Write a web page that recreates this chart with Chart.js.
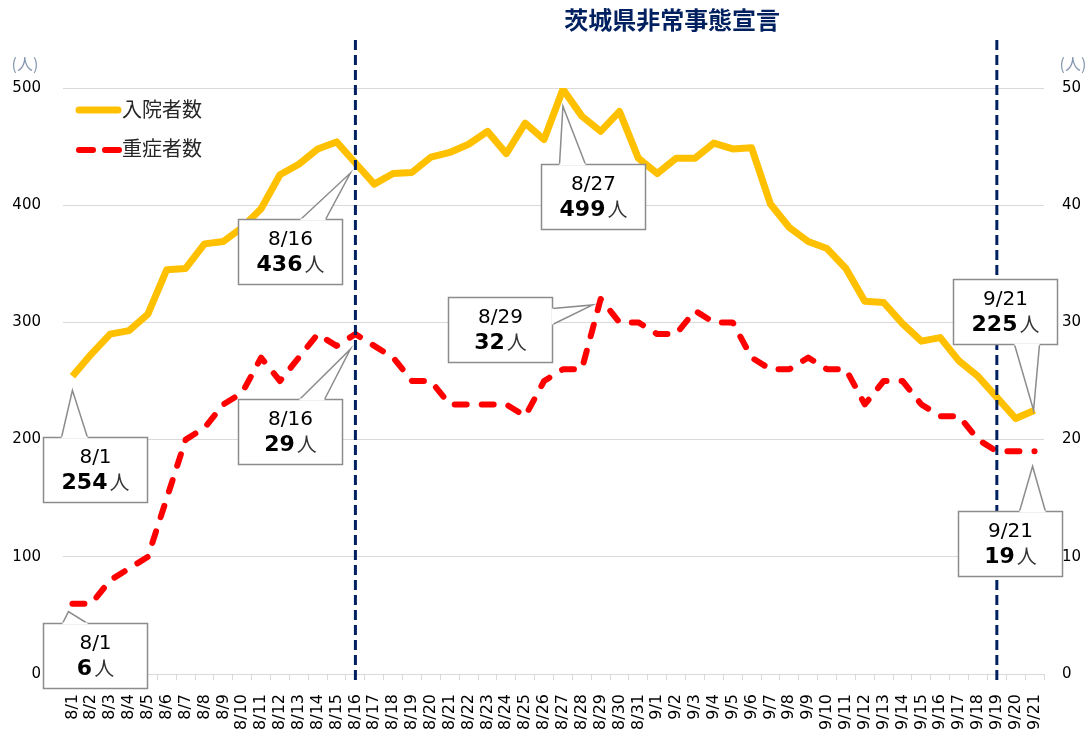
<!DOCTYPE html>
<html>
<head>
<meta charset="utf-8">
<script src="https://cdn.jsdelivr.net/npm/chart.js@4"></script>
<style>
html, body { margin: 0; padding: 0; background: #fff; }
#wrap { width: 1088px; height: 731px; }
</style>
</head>
<body>
<div id="wrap"><canvas id="lineChart"></canvas></div>
<script>
var days = ['8/1','8/2','8/3','8/4','8/5','8/6','8/7','8/8','8/9','8/10','8/11','8/12','8/13','8/14','8/15','8/16',
    '8/17','8/18','8/19','8/20','8/21','8/22','8/23','8/24','8/25','8/26','8/27','8/28','8/29','8/30','8/31',
    '9/1','9/2','9/3','9/4','9/5','9/6','9/7','9/8','9/9','9/10','9/11','9/12','9/13','9/14','9/15','9/16',
    '9/17','9/18','9/19','9/20','9/21'];

// 入院者数 (left axis)
var inpatients = [254,273,290,293,307,345,346,367,369,381,397,426,435,448,454,436,
    418,427,428,441,445,452,463,444,470,456,499,476,463,480,440,
    427,440,440,453,448,449,401,381,369,363,346,318,317,299,284,287,267,254,236,218,225];

// 重症者数 (right axis)
var severe = [6,6,8,9,10,15,20,21,23,24,27,25,27,29,28,29,
    28,27,25,25,23,23,23,23,22,25,26,26,32,30,30,
    29,29,31,30,30,27,26,26,27,26,26,23,25,25,23,22,22,20,19,19,19];

var leftTicks = [0,100,200,300,400,500];
var rightTicks = [0,10,20,30,40,50];
var declarationDays = ['8/16','9/19'];
var titleText = '茨城県非常事態宣言';
var seriesNames = ['入院者数','重症者数'];

// callouts: dataset, day, box offset from point, pointer base (relative to box) and tip offset
var callouts = [
    {ds: 0, day: '8/1',  dx: -29,  dy: 61,   b1: [18, 0],  b2: [44, 0],  tip: [0, 14]},
    {ds: 0, day: '8/16', dx: -117, dy: 56,   b1: [62, 0],  b2: [87, 0],  tip: [-5, 10]},
    {ds: 0, day: '8/27', dx: -22,  dy: 75,   b1: [18, 0],  b2: [44, 0],  tip: [0, 17]},
    {ds: 0, day: '9/21', dx: -82,  dy: -131, b1: [61, 65], b2: [86, 65], tip: [-1, 0]},
    {ds: 1, day: '8/1',  dx: -29,  dy: 19,   b1: [19, 0],  b2: [44, 0],  tip: [-4, 8]},
    {ds: 1, day: '8/16', dx: -117, dy: 65,   b1: [61, 0],  b2: [86, 0],  tip: [-5, 15]},
    {ds: 1, day: '8/29', dx: -153, dy: -2,   b1: [104, 11], b2: [104, 27], tip: [-8, 6]},
    {ds: 1, day: '9/21', dx: -77,  dy: 60,   b1: [61, 0],  b2: [87, 0],  tip: [-2, 15]}
];

var NUM_FONT = "'DejaVu Sans', 'Noto Sans CJK JP', sans-serif";
var JP_FONT = "'Noto Sans CJK JP', sans-serif";

var extras = {
    id: 'extras',
    afterDatasetsDraw: function(chart) {
        var c = chart.ctx;
        var x = chart.scales.x;
        var area = chart.chartArea;
        c.save();

        // declaration lines
        c.strokeStyle = '#002060';
        c.lineWidth = 3;
        c.setLineDash([10, 5]);
        var xs = declarationDays.map(function(d) { return x.getPixelForValue(days.indexOf(d)); });
        xs.forEach(function(px) {
            c.beginPath();
            c.moveTo(px, 40);
            c.lineTo(px, area.bottom + 6);
            c.stroke();
        });
        c.setLineDash([]);

        // title
        c.fillStyle = '#002060';
        c.font = 'bold 24px ' + JP_FONT;
        c.textAlign = 'center';
        c.textBaseline = 'middle';
        c.fillText(titleText, (xs[0] + xs[1]) / 2 - 4, 20);

        // axis units
        c.fillStyle = '#8497b0';
        c.font = '16px ' + JP_FONT;
        c.fillText('(人)', 25, 64);
        c.fillText('(人)', 1073, 64);

        // legend
        c.lineCap = 'round';
        c.strokeStyle = '#FFC000';
        c.lineWidth = 7;
        c.beginPath(); c.moveTo(79, 110); c.lineTo(118, 110); c.stroke();
        c.strokeStyle = '#FF0000';
        c.lineWidth = 6;
        c.setLineDash([14, 12]);
        c.beginPath(); c.moveTo(79, 150); c.lineTo(119, 150); c.stroke();
        c.setLineDash([]);
        c.fillStyle = '#262626';
        c.font = '20px ' + JP_FONT;
        c.textAlign = 'left';
        c.fillText(seriesNames[0], 122, 109);
        c.fillText(seriesNames[1], 122, 148);

        // callouts
        callouts.forEach(function(co) {
            var idx = days.indexOf(co.day);
            var yScale = co.ds === 0 ? chart.scales.y : chart.scales.y2;
            var val = co.ds === 0 ? inpatients[idx] : severe[idx];
            var px = x.getPixelForValue(idx);
            var py = yScale.getPixelForValue(val);
            var bx = Math.round(px + co.dx) + 0.5, by = Math.round(py + co.dy) + 0.5;
            var w = 104, h = 65;
            c.lineWidth = 1.5;
            c.lineCap = 'butt';
            c.fillStyle = '#fff';
            c.strokeStyle = '#8c8c8c';
            c.fillRect(bx, by, w, h);
            c.strokeRect(bx, by, w, h);
            var b1x = bx + co.b1[0], b1y = by + co.b1[1];
            var b2x = bx + co.b2[0], b2y = by + co.b2[1];
            var tx = px + co.tip[0], ty = py + co.tip[1];
            c.beginPath();
            c.moveTo(b1x, b1y); c.lineTo(tx, ty); c.lineTo(b2x, b2y); c.closePath();
            c.fill();
            c.beginPath();
            c.moveTo(b1x, b1y); c.lineTo(tx, ty); c.lineTo(b2x, b2y);
            c.stroke();
            c.strokeStyle = '#fff';
            c.lineWidth = 2;
            c.beginPath(); c.moveTo(b1x, b1y); c.lineTo(b2x, b2y); c.stroke();

            var cx = bx + w / 2;
            c.fillStyle = '#000';
            c.textBaseline = 'middle';
            c.textAlign = 'center';
            c.font = '20px ' + NUM_FONT;
            c.fillText(co.day, cx, by + 20);
            c.font = 'bold 22px ' + NUM_FONT;
            var num = String(val);
            var nw = c.measureText(num).width;
            c.font = '20px ' + JP_FONT;
            var uw = c.measureText('人').width;
            var sx = cx - (nw + uw + 2) / 2;
            c.textAlign = 'left';
            c.font = 'bold 22px ' + NUM_FONT;
            c.fillText(num, sx, by + 46);
            c.fillStyle = '#333';
            c.font = '20px ' + JP_FONT;
            c.fillText('人', sx + nw + 2, by + 45);
        });
        c.restore();
    }
};

var ctx = document.getElementById('lineChart').getContext('2d');
var myChart = new Chart(ctx, {
    type: 'line',
    data: {
        labels: days,
        datasets: [{
            label: seriesNames[0],
            data: inpatients,
            yAxisID: 'y',
            borderColor: '#FFC000',
            backgroundColor: '#FFC000',
            borderWidth: 7,
            borderJoinStyle: 'round',
            pointRadius: 0,
            tension: 0
        }, {
            label: seriesNames[1],
            data: severe,
            yAxisID: 'y2',
            borderColor: '#FF0000',
            backgroundColor: '#FF0000',
            borderWidth: 6,
            borderDash: [12, 15],
            borderCapStyle: 'round',
            borderJoinStyle: 'round',
            pointRadius: 0,
            tension: 0
        }]
    },
    options: {
        responsive: true,
        maintainAspectRatio: false,
        animation: false,
        layout: { padding: { top: 88, left: 0, right: 0, bottom: 0 } },
        plugins: {
            legend: { display: false },
            tooltip: { enabled: false }
        },
        scales: {
            x: {
                type: 'category',
                offset: true,
                afterFit: function(s) { s.height = 57; },
                grid: { offset: true, drawOnChartArea: false, tickLength: 6, color: '#d9d9d9' },
                border: { color: '#d9d9d9', width: 1 },
                ticks: {
                    autoSkip: false, minRotation: 90, maxRotation: 90, padding: 14,
                    color: '#000', font: { family: NUM_FONT, size: 16 }
                }
            },
            y: {
                position: 'left',
                min: 0, max: 500,
                afterFit: function(s) { s.width = 63; },
                afterBuildTicks: function(s) { s.ticks = leftTicks.map(function(v) { return { value: v }; }); },
                grid: { color: '#d9d9d9', drawTicks: false },
                border: { display: false },
                ticks: { padding: 22, color: '#000', font: { family: NUM_FONT, size: 15 } }
            },
            y2: {
                position: 'right',
                min: 0, max: 50,
                afterFit: function(s) { s.width = 44; },
                afterBuildTicks: function(s) { s.ticks = rightTicks.map(function(v) { return { value: v }; }); },
                grid: { drawOnChartArea: false, drawTicks: false },
                border: { display: false },
                ticks: { padding: 18, color: '#000', font: { family: NUM_FONT, size: 15 } }
            }
        }
    },
    plugins: [extras]
});
</script>
</body>
</html>
